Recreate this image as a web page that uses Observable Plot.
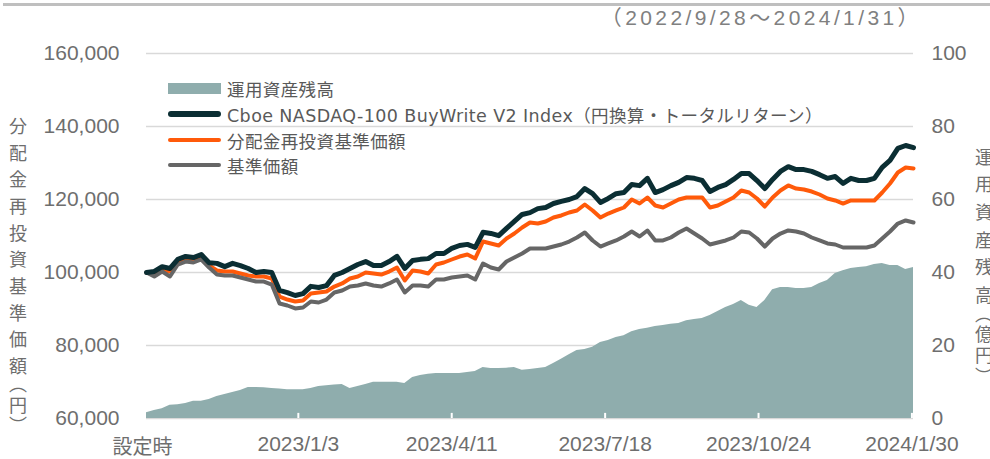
<!DOCTYPE html>
<html><head><meta charset="utf-8">
<script src="https://cdn.jsdelivr.net/npm/d3@7"></script>
<script src="https://cdn.jsdelivr.net/npm/@observablehq/plot@0.6"></script>
<style>
html,body{margin:0;padding:0;background:#fff;}
#wrap{position:relative;width:990px;height:459px;overflow:hidden;}
#chart svg{display:block;}
.topline{position:absolute;left:3px;right:0;top:3px;height:3px;background:#bfbfbf;}
.period{position:absolute;right:68px;top:6px;font:21px "Liberation Sans","Noto Sans CJK JP",sans-serif;letter-spacing:3.4px;color:#808080;line-height:24px;white-space:nowrap;}
.vtitle{position:absolute;writing-mode:vertical-rl;font:18px "Noto Sans CJK JP",sans-serif;line-height:18px;color:#6e6e6e;white-space:nowrap;}
.vtitle .p{font-feature-settings:"vpal" 1;letter-spacing:3px;}
.legend{position:absolute;left:168px;top:0;font:17.5px "DejaVu Sans","Noto Sans CJK JP",sans-serif;color:#595959;letter-spacing:0.4px;}
.row{position:absolute;left:0;height:26px;display:flex;align-items:center;white-space:nowrap;}
.sw{width:53px;display:inline-block;margin-right:6px;}
</style></head>
<body>
<div id="wrap">
  <div id="chart"></div>
  <div class="topline"></div>
  <div class="period" id="period"></div>
  <div class="vtitle" id="ltitle" style="left:9px;top:117px;letter-spacing:8.7px;"></div>
  <div class="vtitle" id="rtitle" style="left:975px;top:148px;letter-spacing:9.6px;"></div>
  <div class="legend" id="legend"></div>
</div>
<script>
const dates = ["2022-09-28","2022-10-03","2022-10-08","2022-10-13","2022-10-18","2022-10-23","2022-10-28","2022-11-02","2022-11-07","2022-11-12","2022-11-17","2022-11-22","2022-11-27","2022-12-02","2022-12-07","2022-12-12","2022-12-17","2022-12-22","2022-12-27","2023-01-01","2023-01-06","2023-01-11","2023-01-16","2023-01-21","2023-01-26","2023-01-31","2023-02-05","2023-02-10","2023-02-15","2023-02-20","2023-02-25","2023-03-02","2023-03-07","2023-03-12","2023-03-17","2023-03-22","2023-03-27","2023-04-01","2023-04-06","2023-04-11","2023-04-16","2023-04-21","2023-04-26","2023-05-01","2023-05-06","2023-05-11","2023-05-16","2023-05-21","2023-05-26","2023-05-31","2023-06-05","2023-06-10","2023-06-15","2023-06-20","2023-06-25","2023-06-30","2023-07-05","2023-07-10","2023-07-15","2023-07-20","2023-07-25","2023-07-30","2023-08-04","2023-08-09","2023-08-14","2023-08-19","2023-08-24","2023-08-29","2023-09-03","2023-09-08","2023-09-13","2023-09-18","2023-09-23","2023-09-28","2023-10-03","2023-10-08","2023-10-13","2023-10-18","2023-10-23","2023-10-28","2023-11-02","2023-11-07","2023-11-12","2023-11-17","2023-11-22","2023-11-27","2023-12-02","2023-12-07","2023-12-12","2023-12-17","2023-12-22","2023-12-27","2024-01-01","2024-01-06","2024-01-11","2024-01-16","2024-01-21","2024-01-26","2024-01-31"];
// Cboe NASDAQ-100 BuyWrite V2 Index（円換算・トータルリターン）
const cboe = [100000,100300,101600,101100,103600,104400,104100,104900,102700,102500,101600,102500,101900,101100,100000,100300,100000,95100,94500,93700,94200,96200,95900,96400,99200,100000,101100,102200,103000,101900,101900,103000,104400,101100,103300,103600,103800,105200,105200,106600,107400,107700,106900,111000,110700,110100,112100,114000,115900,116400,117500,117800,118900,119500,120000,120800,123000,121600,119200,120300,121600,121900,124100,123800,125800,121900,122700,123800,124700,126000,125800,125200,122200,123300,124100,125500,127100,127100,125200,123000,125500,127700,129000,128200,128200,127700,126800,125800,126300,124400,125800,125200,125200,125800,128800,130700,134000,134800,134200];
// 分配金再投資基準価額
const fund = [100000,99450,100820,100270,102740,103560,103290,104110,101920,100550,100270,100270,99730,99180,98900,98900,98360,93420,92600,92050,92330,94250,94520,94790,96160,96990,98360,98900,100000,99730,99450,100270,101370,97810,100550,100270,99730,102190,102740,103560,104380,104930,103840,108490,107950,107400,109320,110680,112330,113700,113420,113970,115070,115620,116440,116990,118630,116990,115070,116160,116990,117810,120000,118900,120550,118360,117810,118900,120000,120550,120550,120550,117810,118360,119450,120550,122470,121920,120270,118080,120550,122470,123840,123010,122740,122190,121370,120270,119730,118900,119730,119730,119730,119730,121920,124380,127400,128770,128490];
// 基準価額
const nav = [100000,98900,100270,98900,102190,103010,102740,103560,101370,99450,99180,99180,98630,98080,97530,97530,96710,91510,90960,90140,90410,92050,91780,92600,94520,95070,96160,96440,96990,96440,96160,96990,98080,94520,96440,96440,96160,98080,98080,98630,98900,99180,98080,102470,101370,100820,103010,104110,105210,106580,106580,106580,107120,107670,108490,109590,110960,108770,107120,107950,108770,109860,111230,109860,111510,108770,108770,109590,110960,112050,110680,109320,107670,108220,108770,109590,111230,110960,109320,107120,109320,110680,111510,111230,110680,109590,108770,107950,107670,106850,106850,106850,106850,107400,109320,111230,113420,114250,113700];
// 運用資産残高（億円）
const aum = [1.6,2.2,2.7,3.6,3.8,4.1,4.7,4.7,5.2,6.0,6.6,7.1,7.7,8.5,8.5,8.4,8.2,8.1,7.9,7.9,7.9,8.2,8.8,9.0,9.2,9.3,8.2,8.8,9.3,9.9,9.9,9.9,9.9,9.6,11.2,11.8,12.1,12.3,12.3,12.3,12.3,12.6,12.9,14.0,13.7,13.7,13.8,14.0,13.2,13.4,13.7,14.0,15.1,16.2,17.5,18.6,18.9,19.5,20.8,21.4,22.2,22.7,23.8,24.4,24.7,25.2,25.5,25.8,26.0,26.8,27.1,27.4,28.2,29.3,30.4,31.2,32.3,31.0,30.4,32.3,35.3,35.9,35.9,35.6,35.6,35.9,37.0,37.8,39.7,40.5,41.1,41.4,41.6,42.2,42.5,41.9,41.9,40.8,41.4];

const leftTicks = [60000,80000,100000,120000,140000,160000];
const rightTicks = [0,20,40,60,80,100];
const xTickDates = ["2022-09-28","2023-01-03","2023-04-11","2023-07-18","2023-10-24","2024-01-30"];
const xTickLabels = ["設定時","2023/1/3","2023/4/11","2023/7/18","2023/10/24","2024/1/30"];
const seriesNames = ["運用資産残高","Cboe NASDAQ-100 BuyWrite V2 Index（円換算・トータルリターン）","分配金再投資基準価額","基準価額"];
const periodText = "（2022/9/28～2024/1/31）";
const leftTitle = "分配金再投資基準価額";
const rightTitle = "運用資産残高";

const colors = {aum:"#8fadad", cboe:"#0b2e33", fund:"#ff5a0a", nav:"#666666"};

// right axis (億円) shares the frame: 0..100 maps onto 60,000..160,000
const y0 = leftTicks[0];
const k = (leftTicks[leftTicks.length-1]-y0)/(rightTicks[rightTicks.length-1]-rightTicks[0]);
const toLeft = v => y0 + v*k;

const rows = dates.map((d,i)=>({date:new Date(d), cboe:cboe[i], fund:fund[i], nav:nav[i], aum:aum[i]}));
const tickRows = xTickDates.map((d,i)=>({date:new Date(d), label:xTickLabels[i]}));

const chart = Plot.plot({
  width: 990, height: 459,
  marginLeft: 146, marginRight: 77, marginTop: 53, marginBottom: 41,
  x: {type:"utc", axis:null, domain:[new Date(dates[0]), new Date(dates[dates.length-1])]},
  y: {axis:null, domain:[leftTicks[0], leftTicks[leftTicks.length-1]]},
  style: {fontFamily:'"Liberation Sans", Arial, "Noto Sans CJK JP", sans-serif', fontSize:"21px", color:"#6e6e6e", background:"#fff"},
  marks: [
    Plot.ruleY(leftTicks, {stroke:"#d9d9d9", strokeWidth:1.4}),
    Plot.areaY(rows, {x:"date", y1:()=>y0, y2:d=>toLeft(d.aum), fill:colors.aum}),
    Plot.ruleX(tickRows.slice(1), {x:"date", y1:()=>y0, y2:()=>y0+1400, stroke:"#fff", strokeWidth:2}),
    Plot.line(rows, {x:"date", y:"fund", stroke:colors.fund, strokeWidth:4, strokeLinejoin:"round"}),
    Plot.line(rows, {x:"date", y:"nav", stroke:colors.nav, strokeWidth:4, strokeLinejoin:"round"}),
    Plot.line(rows, {x:"date", y:"cboe", stroke:colors.cboe, strokeWidth:5, strokeLinejoin:"round"}),
    Plot.axisY(leftTicks, {anchor:"left", tickSize:0, tickPadding:27, tickFormat:d3.format(",")}),
    Plot.axisY(rightTicks.map(toLeft), {anchor:"right", tickSize:0, tickPadding:18, tickFormat:d=>String(Math.round((d-y0)/k))}),
    Plot.text(tickRows.slice(1), {x:"date", y:()=>y0, text:"label", dy:26}),
    Plot.text(tickRows.slice(0,1), {x:"date", y:()=>y0, text:"label", dy:29, dx:-4, fontFamily:'"Noto Sans CJK JP", sans-serif', fontSize:20})
  ]
});
document.getElementById("chart").appendChild(chart);

document.getElementById("period").textContent = periodText;
document.getElementById("ltitle").innerHTML = leftTitle + '<span class="p">（円）</span>';
document.getElementById("rtitle").innerHTML = rightTitle + '<span class="p">（億円）</span>';

const legend = document.getElementById("legend");
const legendRows = [
  {name:seriesNames[0], color:colors.aum, h:11, r:0, top:75},
  {name:seriesNames[1], color:colors.cboe, h:6, r:3, top:101},
  {name:seriesNames[2], color:colors.fund, h:4, r:2, top:127},
  {name:seriesNames[3], color:colors.nav, h:4, r:2, top:152}
];
legendRows.forEach(r=>{
  const row = document.createElement("div");
  row.className = "row"; row.style.top = r.top+"px";
  const sw = document.createElement("span");
  sw.className = "sw"; sw.style.height = r.h+"px"; sw.style.background = r.color; sw.style.borderRadius = r.r+"px";
  const t = document.createElement("span"); t.textContent = r.name;
  row.appendChild(sw); row.appendChild(t); legend.appendChild(row);
});
</script>
</body></html>
